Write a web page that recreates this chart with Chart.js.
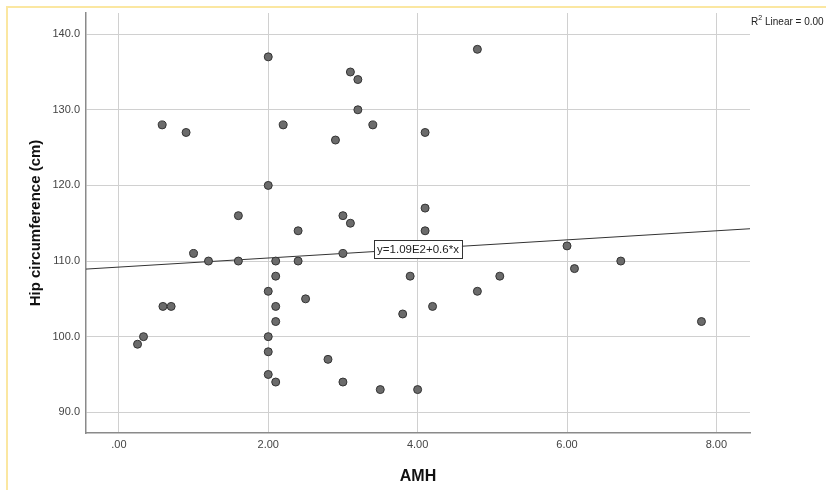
<!DOCTYPE html>
<html>
<head>
<meta charset="utf-8">
<script src="https://cdn.jsdelivr.net/npm/chart.js@4"></script>
<style>
  html, body { margin: 0; padding: 0; background: #fff; }
  #wrap { position: relative; width: 826px; height: 490px; }
</style>
</head>
<body>
<div id="wrap"><canvas id="chart" width="826" height="490"></canvas></div>
<script>
// AMH values (x) and matching hip circumference (y)
const amh = [0.58, 0.90, 2.0, 3.10, 3.20, 3.20, 2.20, 3.40, 2.90, 2.0, 1.60, 2.40, 3.0, 3.10,
  4.80, 4.10, 4.10, 4.10, 6.0,
  1.0, 1.2, 1.6, 2.1, 2.4, 3.0, 2.1, 2.0, 0.59, 0.70, 2.5, 2.1, 2.1, 0.25, 0.33, 2.0, 2.0,
  2.8, 2.0, 2.1, 3.0, 3.5, 3.9, 3.8, 4.0,
  4.2, 4.8, 5.1, 6.1, 6.72, 7.8];
const hip = [128, 127, 137, 135, 134, 130, 128, 128, 126, 120, 116, 114, 116, 115,
  138, 127, 117, 114, 112,
  111, 110, 110, 110, 110, 111, 108, 106, 104, 104, 105, 104, 102, 99, 100, 100, 98,
  97, 95, 94, 94, 93, 108, 103, 93,
  104, 106, 108, 109, 110, 102];

const xTicks = [0, 2, 4, 6, 8];
const yTicks = [90, 100, 110, 120, 130, 140];

// fit line from the label y=1.09E2+0.6*x
const fitIntercept = 109.2;
const fitSlope = 0.6;
const fitLabel = "y=1.09E2+0.6*x";
const r2Label = "Linear = 0.00";

const xMin = -0.44, xMax = 8.45;
const yMin = 87.26, yMax = 142.8;

const points = amh.map((x, i) => ({ x: x, y: hip[i] }));
const fitLine = [xMin, xMax].map((x) => ({ x: x, y: fitIntercept + fitSlope * x }));

const decorations = {
  id: "decorations",
  beforeDraw(chart) {
    const ctx = chart.ctx;
    ctx.save();
    // pale yellow frame of the output pane
    ctx.strokeStyle = "#fbe7a1";
    ctx.lineWidth = 2;
    ctx.beginPath();
    ctx.moveTo(7, 490);
    ctx.lineTo(7, 7);
    ctx.lineTo(826, 7);
    ctx.stroke();
    ctx.restore();
  },
  afterDatasetsDraw(chart) {
    const ctx = chart.ctx;
    const xs = chart.scales.x, ys = chart.scales.y;
    ctx.save();
    // equation box on the line
    const cx = (chart.chartArea.left + chart.chartArea.right) / 2;
    const cy = ys.getPixelForValue(fitIntercept + fitSlope * xs.getValueForPixel(cx));
    ctx.font = "11.5px 'Liberation Sans', Arial, sans-serif";
    const w = ctx.measureText(fitLabel).width + 6;
    const h = 18;
    ctx.fillStyle = "#fff";
    ctx.fillRect(cx - w / 2, cy - h / 2, w, h);
    ctx.strokeStyle = "#333";
    ctx.lineWidth = 1;
    ctx.strokeRect(Math.round(cx - w / 2) + 0.5, Math.round(cy - h / 2) + 0.5, Math.round(w), h);
    ctx.fillStyle = "#222";
    ctx.textAlign = "center";
    ctx.textBaseline = "middle";
    ctx.fillText(fitLabel, cx, cy + 1);

    // R² label at top right
    ctx.textAlign = "left";
    ctx.textBaseline = "alphabetic";
    ctx.font = "10px 'Liberation Sans', Arial, sans-serif";
    ctx.fillStyle = "#222";
    const rx = chart.chartArea.right + 1;
    ctx.fillText("R", rx, 25);
    const rw = ctx.measureText("R").width;
    ctx.font = "7px 'Liberation Sans', Arial, sans-serif";
    ctx.fillText("2", rx + rw, 20);
    ctx.font = "10px 'Liberation Sans', Arial, sans-serif";
    ctx.fillText(" " + r2Label, rx + rw + 4, 25);
    ctx.restore();
  }
};

const ctx = document.getElementById("chart").getContext("2d");
new Chart(ctx, {
  type: "scatter",
  data: {
    datasets: [
      {
        label: "Hip",
        data: points,
        pointRadius: 4,
        pointBackgroundColor: "#6b6b6b",
        pointBorderColor: "#333",
        pointBorderWidth: 1,
        order: 1
      },
      {
        type: "line",
        label: "Fit",
        data: fitLine,
        borderColor: "#333",
        borderWidth: 1,
        pointRadius: 0,
        fill: false,
        order: 2
      }
    ]
  },
  options: {
    responsive: false,
    animation: false,
    layout: { padding: { top: 13, right: 76, left: 0, bottom: 0 } },
    plugins: {
      legend: { display: false },
      tooltip: { enabled: false }
    },
    scales: {
      x: {
        type: "linear",
        min: xMin,
        max: xMax,
        afterBuildTicks: (s) => { s.ticks = xTicks.map((v) => ({ value: v })); },
        afterFit: (s) => { s.height = 57; },
        grid: { color: "#d0d0d0", lineWidth: 1, drawTicks: false },
        border: { color: "#8a8a8a", width: 1.5 },
        ticks: {
          padding: 5,
          color: "#444",
          font: { family: "'Liberation Sans', Arial, sans-serif", size: 11 },
          callback: (v) => (v === 0 ? ".00" : v.toFixed(2))
        },
        title: {
          display: true,
          text: "AMH",
          color: "#111",
          padding: { top: 12 },
          font: { family: "'Liberation Sans', Arial, sans-serif", size: 16, weight: "bold" }
        }
      },
      y: {
        type: "linear",
        min: yMin,
        max: yMax,
        afterBuildTicks: (s) => { s.ticks = yTicks.map((v) => ({ value: v })); },
        afterFit: (s) => { s.width = 86; },
        grid: { color: "#d0d0d0", lineWidth: 1, drawTicks: false },
        border: { color: "#8a8a8a", width: 1.5 },
        ticks: {
          padding: 6,
          color: "#444",
          font: { family: "'Liberation Sans', Arial, sans-serif", size: 11 },
          callback: (v) => v.toFixed(1)
        },
        title: {
          display: true,
          text: "Hip circumference (cm)",
          color: "#111",
          padding: { top: 27, bottom: 0 },
          font: { family: "'Liberation Sans', Arial, sans-serif", size: 15, weight: "bold" }
        }
      }
    }
  },
  plugins: [decorations]
});
</script>
</body>
</html>
